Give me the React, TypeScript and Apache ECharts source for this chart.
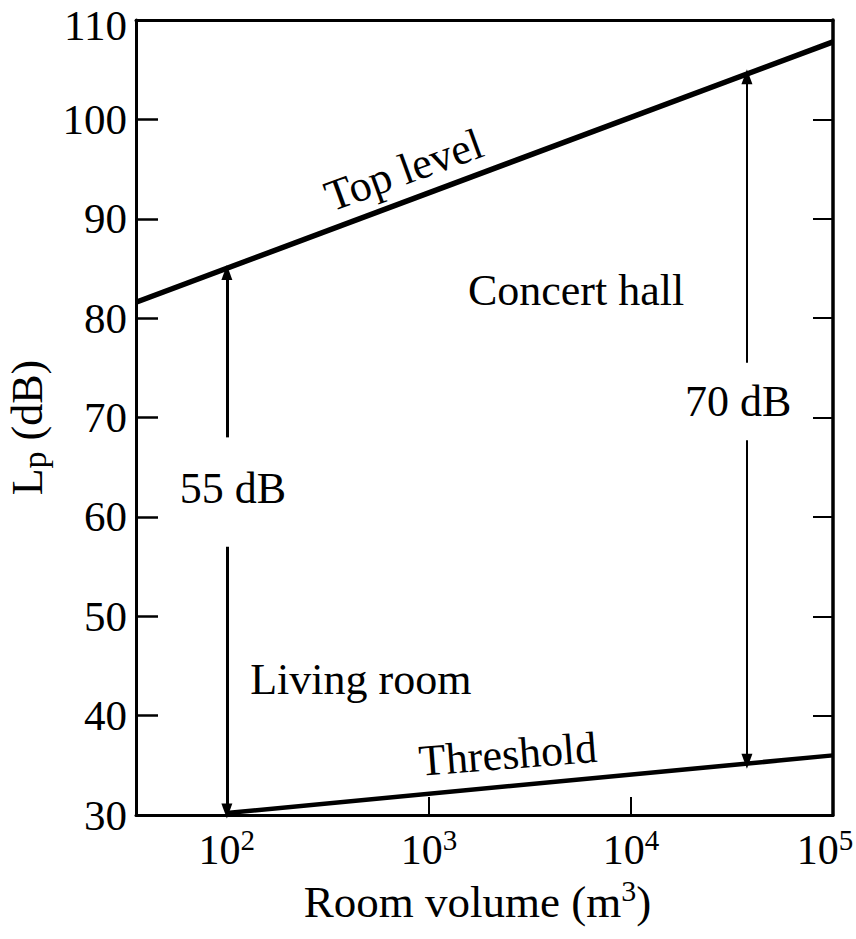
import React, { useEffect, useRef } from 'react';
import * as echarts from 'echarts';

// Axis ranges
const volumeMin = 35.5;
const volumeMax = 100000;
const dbMin = 30;
const dbMax = 110;
const dbStep = 10;

// Curves
const topLevelVolume = [35.5, 100000];
const topLevelDb = [81.6, 107.8];
const thresholdVolume = [100, 100000];
const thresholdDb = [30.2, 36.0];

// Dimension arrows (two per arrow: lower part and upper part, gap for the label)
const arrowVolume = [100, 37500];
const arrowLowDb = [30.4, 35.4];
const arrowGapLowDb = [57, 67.7];
const arrowGapHighDb = [68, 75.5];
const arrowHighDb = [84.6, 104.3];
const arrowLabels = ['55 dB', '70 dB'];
const arrowLabelVolume = [107, 33900];
const arrowLabelDb = [62.9, 71.6];

// Annotations
const noteTexts = ['Top level', 'Concert hall', 'Living room', 'Threshold'];
const noteVolume = [751, 5346, 460, 2460];
const noteDb = [94.9, 82.8, 43.6, 36.1];

const FONT = '"Liberation Serif", "Times New Roman", serif';

export default function App() {
  const ref = useRef<HTMLDivElement>(null);

  useEffect(() => {
    if (!ref.current) return;
    const chart = echarts.init(ref.current, undefined, { renderer: 'svg' });

    const noteRotation: Record<string, number> = { 'Top level': 20, Threshold: 4.5 };

    const noteData = noteTexts.map((t, i) => ({
      value: [noteVolume[i], noteDb[i]],
      label: { formatter: t, rotate: noteRotation[t] || 0 },
    }));
    const arrowLabelData = arrowLabels.map((t, i) => ({
      value: [arrowLabelVolume[i], arrowLabelDb[i]],
      label: { formatter: t },
    }));

    const arrowWidths = [3, 2];
    const markLineData: any[] = [];
    arrowVolume.forEach((v, i) => {
      const ls = { color: '#000', width: arrowWidths[i], type: 'solid' };
      markLineData.push([
        { coord: [v, arrowGapHighDb[i]], lineStyle: ls },
        { coord: [v, arrowHighDb[i]], lineStyle: ls },
      ]);
      markLineData.push([
        { coord: [v, arrowGapLowDb[i]], lineStyle: ls },
        { coord: [v, arrowLowDb[i]], lineStyle: ls },
      ]);
    });

    const isPow10 = (v: number) => {
      const e = Math.round(Math.log10(v));
      return Math.abs(Math.pow(10, e) - v) < 1e-6 * v;
    };

    const xLabel = (v: number) => {
      if (!isPow10(v)) return '';
      const e = Math.round(Math.log10(v));
      const s = `{b|10}{s|${e}}`;
      return v >= volumeMax ? s + '{pad|}' : s;
    };

    const yLabel = (v: number) => (v >= dbMax ? `{t|${v}}` : `{n|${v}}`);

    chart.setOption({
      animation: false,
      backgroundColor: '#fff',
      grid: { left: 136, right: 23, top: 20, bottom: 124, containLabel: false, outerBoundsMode: 'none' },
      xAxis: [
        {
          type: 'log',
          logBase: 10,
          min: volumeMin,
          max: volumeMax,
          position: 'bottom',
          axisLine: { show: true, lineStyle: { color: '#000', width: 3 } },
          axisTick: { show: true, inside: true, length: 18, lineStyle: { color: '#000', width: 2 } },
          minorTick: { show: false },
          splitLine: { show: false },
          axisLabel: {
            showMinLabel: true,
            showMaxLabel: true,
            hideOverlap: false,
            margin: 10,
            formatter: xLabel,
            rich: {
              b: { fontFamily: FONT, fontSize: 42, color: '#000', lineHeight: 50 },
              s: { fontFamily: FONT, fontSize: 29, color: '#000', lineHeight: 29, verticalAlign: 'top' },
              pad: { width: 16 },
            },
          },
          name: '{t|Room volume (m}{s|3}{t|)}{pad|}',
          nameLocation: 'middle',
          nameGap: 60,
          nameTextStyle: {
            rich: {
              t: { fontFamily: FONT, fontSize: 45, color: '#000', lineHeight: 52 },
              s: { fontFamily: FONT, fontSize: 30, color: '#000', lineHeight: 30, verticalAlign: 'top' },
              pad: { width: 14 },
            },
          },
        },
        {
          type: 'log',
          logBase: 10,
          min: volumeMin,
          max: volumeMax,
          position: 'top',
          axisLine: { show: true, lineStyle: { color: '#000', width: 3 } },
          axisTick: { show: false },
          axisLabel: { show: false },
          splitLine: { show: false },
        },
      ],
      yAxis: [
        {
          type: 'value',
          min: dbMin,
          max: dbMax,
          interval: dbStep,
          position: 'left',
          axisLine: { show: true, lineStyle: { color: '#000', width: 3 } },
          axisTick: { show: true, inside: true, length: 22, lineStyle: { color: '#000', width: 2.5 } },
          splitLine: { show: false },
          axisLabel: {
            margin: 9,
            formatter: yLabel,
            rich: {
              n: { fontFamily: FONT, fontSize: 43, lineHeight: 36, color: '#000' },
              t: { fontFamily: FONT, fontSize: 43, lineHeight: 36, color: '#000', padding: [10, 0, 0, 0] },
            },
          },
          name: '{L|L}{p|p}{L| (dB)}{pad|}',
          nameLocation: 'middle',
          nameRotate: 90,
          nameGap: 78,
          nameTextStyle: {
            rich: {
              L: { fontFamily: FONT, fontSize: 44, color: '#000', lineHeight: 48 },
              p: { fontFamily: FONT, fontSize: 34, color: '#000', lineHeight: 34, verticalAlign: 'bottom' },
              pad: { width: 20 },
            },
          },
        },
        {
          type: 'value',
          min: dbMin,
          max: dbMax,
          interval: dbStep,
          position: 'right',
          axisLine: { show: true, lineStyle: { color: '#000', width: 3.5 } },
          axisTick: { show: true, inside: true, length: 20, lineStyle: { color: '#000', width: 2 } },
          splitLine: { show: false },
          axisLabel: { show: false },
        },
      ],
      series: [
        {
          name: 'Top level',
          type: 'line',
          xAxisIndex: 0,
          yAxisIndex: 0,
          symbol: 'none',
          silent: true,
          lineStyle: { color: '#000', width: 5.5 },
          data: topLevelVolume.map((v, i) => [v, topLevelDb[i]]),
        },
        {
          name: 'Threshold',
          type: 'line',
          xAxisIndex: 0,
          yAxisIndex: 0,
          symbol: 'none',
          silent: true,
          lineStyle: { color: '#000', width: 4.5 },
          data: thresholdVolume.map((v, i) => [v, thresholdDb[i]]),
          markLine: {
            silent: true,
            symbol: ['none', 'triangle'],
            symbolSize: [11, 15],
            label: { show: false },
            emphasis: { disabled: true },
            data: markLineData,
          },
        },
        {
          name: 'notes',
          type: 'scatter',
          xAxisIndex: 0,
          yAxisIndex: 0,
          symbolSize: 1,
          silent: true,
          itemStyle: { color: 'rgba(0,0,0,0)' },
          label: {
            show: true,
            position: 'inside',
            fontFamily: FONT,
            fontSize: 44,
            color: '#000',
            textBorderWidth: 0,
            textBorderColor: 'transparent',
            opacity: 1,
          },
          data: [...noteData, ...arrowLabelData],
        },
      ],
    });

    return () => chart.dispose();
  }, []);

  return (
    <div
      ref={ref}
      style={{ position: 'fixed', left: 0, top: 0, width: 856, height: 939, background: '#fff' }}
    />
  );
}
